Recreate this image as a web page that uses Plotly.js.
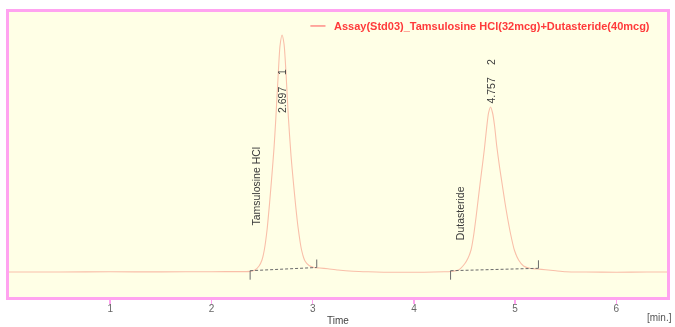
<!DOCTYPE html>
<html>
<head>
<meta charset="utf-8">
<script src="https://cdn.plot.ly/plotly-3.0.1.min.js"></script>
<style>
  html, body { margin: 0; padding: 0; background: #ffffff; }
  #chart { width: 675px; height: 327px; filter: blur(0.55px); }
</style>
</head>
<body>
<div id="chart"></div>
<script>
// Chromatogram: retention time (min) and detector signal
const timeMin = [
  0, 0.5, 1.0, 1.5, 2.0, 2.3,
  2.381, 2.430, 2.470, 2.499, 2.522, 2.549, 2.575, 2.598, 2.618, 2.635, 2.657, 2.677,
  2.697,
  2.717, 2.737, 2.759, 2.786, 2.809, 2.832, 2.855, 2.890, 2.924, 2.964, 3.013,
  3.07, 3.15, 3.25, 3.4, 3.55, 3.7, 3.9, 4.1, 4.3,
  4.362, 4.441, 4.500, 4.535, 4.564, 4.589, 4.614, 4.633, 4.653, 4.678, 4.696, 4.717, 4.737,
  4.757,
  4.777, 4.797, 4.818, 4.846, 4.876, 4.900, 4.925, 4.955, 4.992, 5.034, 5.083, 5.152, 5.221,
  5.3, 5.4, 5.5, 5.7, 6.0, 6.3, 6.5
];
const signal = [
  0, 0, 0.2, 0.1, 0.3, 0.4,
  0.6, 2, 6, 12, 22, 42, 70, 98, 124, 152, 193, 226,
  237,
  228, 198, 156, 116, 90, 66, 45, 22, 11, 6.5, 4.5,
  4, 3.2, 2, 0.8, 0.2, -0.2, -0.3, -0.2, 0.2,
  0.5, 2, 8, 14, 22, 36, 55, 71, 88, 108, 123, 143, 159,
  165,
  159, 146, 126, 105, 85, 69, 54, 38, 22, 12, 6, 3.5, 3,
  2.2, 1.2, 0.3, 0, -0.2, 0, 0
];

// Peak table
const peakNumbers = ['1', '2'];
const retentionTimes = [2.697, 4.757];
const compoundNames = ['Tamsulosine HCl', 'Dutasteride'];

// Integration baselines (start/end time and signal level)
const intStart = [2.382, 4.362];
const intEnd = [3.040, 5.230];
const intStartLevel = [1.3, 1.3];
const intEndLevel = [4.5, 3.7];

const xTickVals = [1, 2, 3, 4, 5, 6];
const xTickText = ['1', '2', '3', '4', '5', '6'];
const seriesName = 'Assay(Std03)_Tamsulosine HCl(32mcg)+Dutasteride(40mcg)';

// ---- styling ----
const FONT = 'Liberation Sans, Arial, sans-serif';
const FRAME = '#ffa3f0';
const TRACE = '#f9bfa9';
const MARK = '#6b6b6b';
const TICK_DOWN = 9;   // length of start marker below baseline
const TICK_UP = 8;     // length of end marker above baseline

// integration lines
const baseX = [], baseY = [], startX = [], startY = [], endX = [], endY = [];
for (let i = 0; i < intStart.length; i++) {
  baseX.push(intStart[i], intEnd[i], null);
  baseY.push(intStartLevel[i], intEndLevel[i], null);
  startX.push(intStart[i], intStart[i], null);
  startY.push(intStartLevel[i] - TICK_DOWN, intStartLevel[i], null);
  endX.push(intEnd[i], intEnd[i], null);
  endY.push(intEndLevel[i], intEndLevel[i] + TICK_UP, null);
}

const traces = [
  { x: timeMin, y: signal, type: 'scatter', mode: 'lines', name: seriesName,
    line: { color: TRACE, width: 1.1, shape: 'spline', smoothing: 0.6 }, hoverinfo: 'skip' },
  { x: baseX, y: baseY, type: 'scatter', mode: 'lines',
    line: { color: MARK, width: 1, dash: '3px,2px' }, hoverinfo: 'skip' },
  { x: startX, y: startY, type: 'scatter', mode: 'lines',
    line: { color: MARK, width: 1 }, hoverinfo: 'skip' },
  { x: endX, y: endY, type: 'scatter', mode: 'lines',
    line: { color: MARK, width: 1 }, hoverinfo: 'skip' }
];

// label placement (signal units along the vertical axis)
const rtLabelY = [172, 181];
const numLabelY = [200, 209.5];
const nameLabelX = [2.436, 4.457];
const nameLabelY = [86, 59];

const annotations = [];
for (let i = 0; i < retentionTimes.length; i++) {
  annotations.push({
    x: retentionTimes[i], y: rtLabelY[i], xref: 'x', yref: 'y',
    text: retentionTimes[i].toFixed(3), textangle: -90, showarrow: false,
    font: { family: FONT, size: 10.5, color: '#3a3a3a' }
  });
  annotations.push({
    x: retentionTimes[i], y: numLabelY[i], xref: 'x', yref: 'y',
    text: peakNumbers[i], textangle: -90, showarrow: false,
    font: { family: FONT, size: 10.5, color: '#3a3a3a' }
  });
  annotations.push({
    x: nameLabelX[i], y: nameLabelY[i], xref: 'x', yref: 'y',
    text: compoundNames[i], textangle: -90, showarrow: false,
    font: { family: FONT, size: 10.5, color: '#3a3a3a' }
  });
}
annotations.push({
  x: 0.4904, y: 0.951, xref: 'paper', yref: 'paper', xanchor: 'left', yanchor: 'middle',
  text: '<b>' + seriesName + '</b>', showarrow: false,
  font: { family: FONT, size: 11, color: '#ff3a3a' }
});
annotations.push({
  x: 0.5, y: -0.083, xref: 'paper', yref: 'paper', xanchor: 'center', yanchor: 'middle',
  text: 'Time', showarrow: false, font: { family: FONT, size: 10, color: '#444444' }
});
annotations.push({
  x: 0.966, y: -0.072, xref: 'paper', yref: 'paper', xanchor: 'left', yanchor: 'middle',
  text: '[min.]', showarrow: false, font: { family: FONT, size: 10, color: '#555555' }
});

const layout = {
  width: 675, height: 327,
  margin: { l: 9, r: 8, t: 12, b: 30, pad: 0 },
  paper_bgcolor: '#ffffff',
  plot_bgcolor: '#ffffe6',
  showlegend: false,
  xaxis: {
    range: [0, 6.5], tickvals: xTickVals, ticktext: xTickText,
    ticks: 'outside', ticklen: 4, tickwidth: 1.5, tickcolor: FRAME,
    ticklabelstandoff: -4,
    showline: true, linecolor: FRAME, linewidth: 3, mirror: true,
    showgrid: false, zeroline: false,
    tickfont: { family: FONT, size: 10, color: '#666666' }
  },
  yaxis: {
    range: [-25, 260], showticklabels: false, ticks: '',
    showline: true, linecolor: FRAME, linewidth: 3, mirror: true,
    showgrid: false, zeroline: false
  },
  shapes: [
    { type: 'line', xref: 'paper', yref: 'paper', x0: 0.458, x1: 0.481, y0: 0.951, y1: 0.951,
      line: { color: '#ff7070', width: 1.2 } }
  ],
  annotations: annotations
};

Plotly.newPlot('chart', traces, layout, { staticPlot: true, displayModeBar: false });
</script>
</body>
</html>
